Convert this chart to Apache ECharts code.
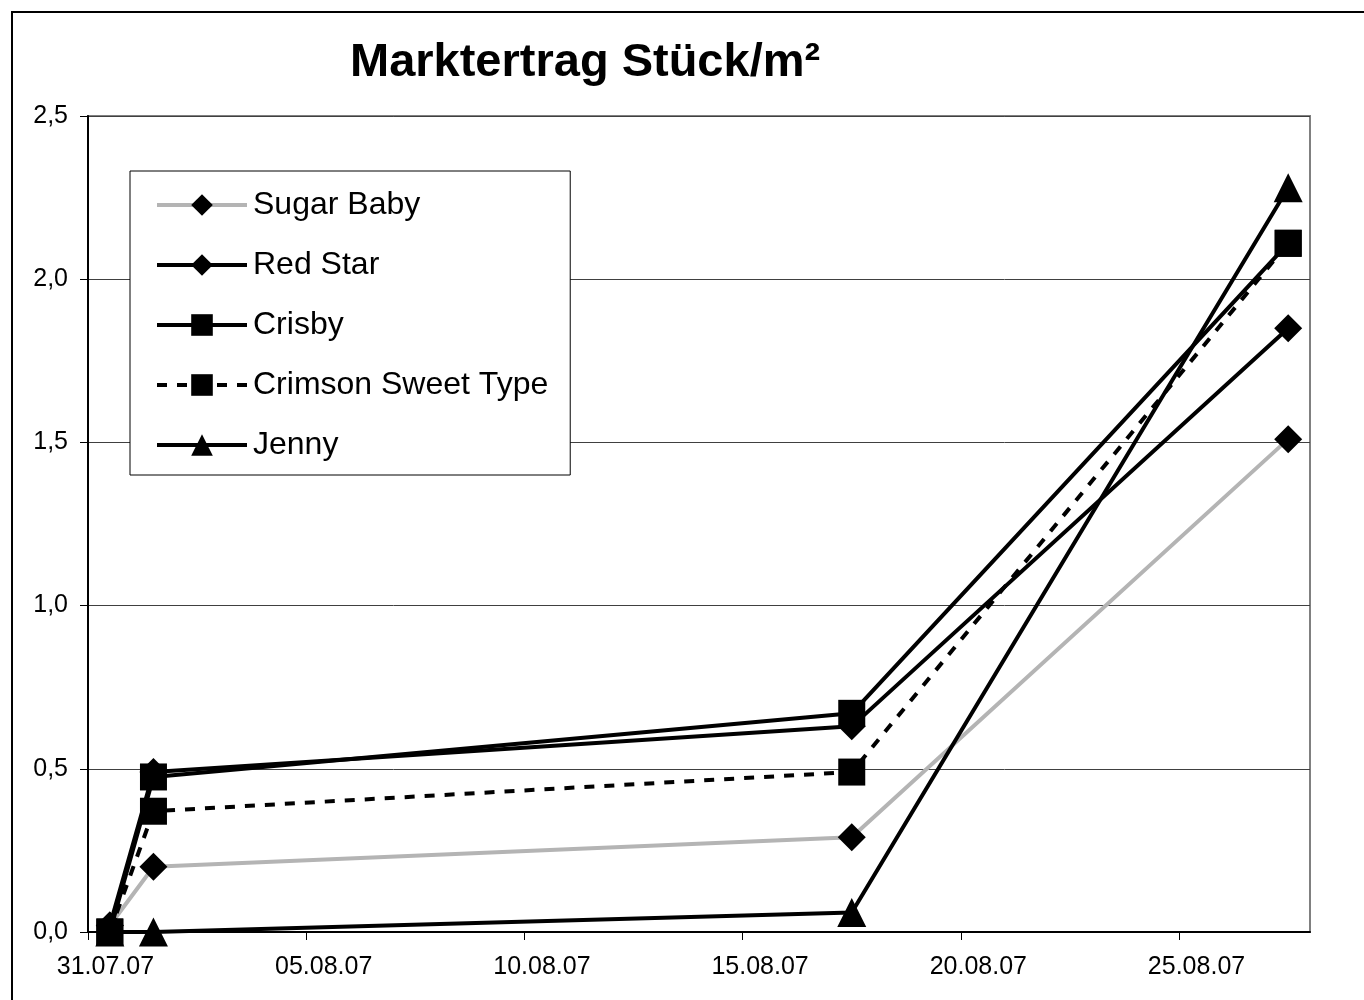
<!DOCTYPE html>
<html><head><meta charset="utf-8">
<script src="https://cdn.jsdelivr.net/npm/echarts@6/dist/echarts.min.js"></script>
<style>html,body{margin:0;padding:0;background:#fff}#c{width:1364px;height:1000px}</style>
</head><body><div id="c"></div>
<script>
// Harvest dates (Excel date axis centres each point in its day)
const dates = ['31.07.07', '01.08.07', '17.08.07', '27.08.07'];
const xTickLabels = ['31.07.07', '05.08.07', '10.08.07', '15.08.07', '20.08.07', '25.08.07'];
const seriesNames = ['Sugar Baby', 'Red Star', 'Crisby', 'Crimson Sweet Type', 'Jenny'];
const sugarBaby = [0.02, 0.20, 0.29, 1.51];
const redStar = [0.02, 0.49, 0.63, 1.85];
const crisby = [0.00, 0.475, 0.67, 2.11];
const crimsonSweet = [0.00, 0.37, 0.49, 2.11];
const jenny = [0.00, 0.00, 0.06, 2.28];

function dayOffset(s) {
  const [d, m, y] = s.split('.').map(Number);
  const t = Date.UTC(2000 + y, m - 1, d);
  const t0 = Date.UTC(2007, 6, 31);
  return (t - t0) / 86400000;
}
function pairs(vals) { return dates.map((d, i) => [dayOffset(d) + 0.5, vals[i]]); }
const tickValues = xTickLabels.map(dayOffset);
const labelValues = tickValues.map(v => v + 0.4);

const chart = echarts.init(document.getElementById('c'));
const mk = (name, vals, symbol, size, color, type) => ({
  name, type: 'line', data: pairs(vals), symbol, symbolSize: size,
  itemStyle: { color: '#000', borderWidth: 0 },
  lineStyle: { color, width: 4, type: type || 'solid' },
  emphasis: { disabled: true }, animation: false
});
const FONT = 'Liberation Sans, Arial';
chart.setOption({
  animation: false,
  title: { text: 'Marktertrag Stück/m²', left: 345, top: 35,
    textStyle: { fontFamily: FONT, fontWeight: 'bold', fontSize: 47, color: '#000' } },
  grid: { left: 88, right: 54, top: 116, bottom: 68, show: true, borderColor: '#808080', borderWidth: 2 },
  legend: {
    orient: 'vertical', left: 130, top: 171,
    padding: [18, 22, 14, 25], itemGap: 28, itemWidth: 90, itemHeight: 27,
    backgroundColor: '#fff', borderColor: '#000', borderWidth: 1,
    lineStyle: { width: 4 },
    textStyle: { fontFamily: FONT, fontSize: 32, color: '#000', padding: [0, 0, 0, 1] },
    data: seriesNames
  },
  xAxis: {
    type: 'value', min: 0, max: 28,
    axisLine: { lineStyle: { color: '#000', width: 2 } },
    axisTick: { show: true, length: 8, inside: false, customValues: tickValues, lineStyle: { color: '#000' } },
    axisLabel: { fontFamily: FONT, fontSize: 25, color: '#000', margin: 23, customValues: labelValues,
      formatter: v => xTickLabels[Math.floor(v / 5)] || '' },
    splitLine: { show: false }
  },
  yAxis: {
    type: 'value', min: 0, max: 2.5, interval: 0.5,
    axisLine: { show: true, lineStyle: { color: '#000', width: 2 } },
    axisTick: { show: true, length: 8, lineStyle: { color: '#000' } },
    axisLabel: { fontFamily: FONT, fontSize: 25, color: '#000', margin: 20,
      formatter: v => v.toFixed(1).replace('.', ',') },
    splitLine: { show: true, lineStyle: { color: '#404040', width: 1 } }
  },
  graphic: [{ type: 'rect', shape: { x: 12, y: 12, width: 1400, height: 1100 },
    style: { fill: 'none', stroke: '#000', lineWidth: 2 }, z: 100, silent: true }],
  series: [
    mk('Sugar Baby', sugarBaby, 'diamond', 28, '#b4b4b4'),
    mk('Red Star', redStar, 'diamond', 28, '#000'),
    mk('Crisby', crisby, 'rect', 27, '#000'),
    mk('Crimson Sweet Type', crimsonSweet, 'rect', 27, '#000', [10, 10]),
    mk('Jenny', jenny, 'triangle', 29, '#000')
  ]
});
</script></body></html>
